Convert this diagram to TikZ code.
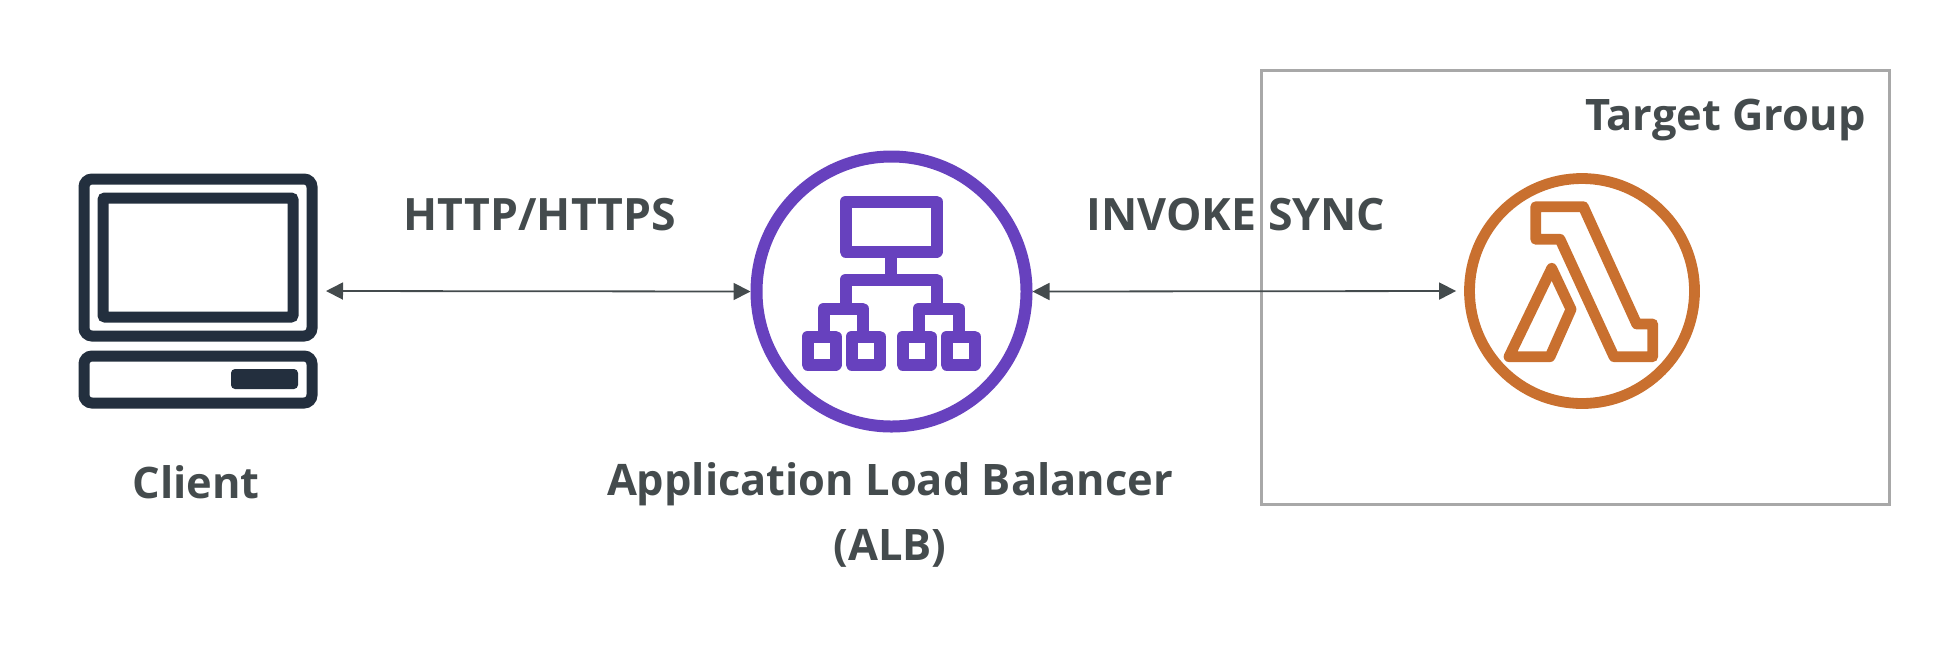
\documentclass[tikz,border=0pt]{standalone}
\usepackage{fontspec}
\setmainfont{Open Sans}
\usetikzlibrary{arrows.meta}
\definecolor{clientcol}{HTML}{232F3E}
\definecolor{albcol}{HTML}{6741BE}
\definecolor{lambdacol}{HTML}{C9702F}
\definecolor{textcol}{HTML}{444B4D}
\definecolor{boxcol}{HTML}{A8A8A8}
\tikzset{
  label/.style={text=textcol,font=\fontsize{21.7}{32.5}\selectfont\bfseries,inner sep=0pt},
  caplabel/.style={text=textcol,font=\fontsize{22.3}{32.5}\selectfont\bfseries,inner sep=0pt},
  clientline/.style={draw=clientcol,line width=5.5pt,rounded corners=4pt},
  albline/.style={draw=albcol,line width=6pt,line join=round},
  lambdaline/.style={draw=lambdacol,line width=5.4pt,line join=round},
}
\begin{document}
\begin{tikzpicture}[x=0.5pt,y=-0.5pt,>={Triangle[length=8.5pt,width=8.5pt]}]
	\useasboundingbox (0,0) rectangle (1958,666);
	% target group
	\node[draw=boxcol,line width=1.4pt,minimum width=314pt,minimum height=217pt,inner sep=0pt] (group) at (1575.5,287.5){};
	\node[label,anchor=base east] (grouplabel) at (1866,130){Target Group};
	% client
	\draw[clientline] (84,179) rectangle (312,336);
	\draw[clientline,rounded corners=1pt] (103,198) rectangle (293,317);
	\draw[clientline] (84,356) rectangle (312,403);
	\draw[fill=clientcol,draw=none,rounded corners=2pt] (231,369) rectangle (298,389);
	\coordinate (clientend) at (326,291);
	\node[label,anchor=base] (clientlabel) at (196,498){Client};
	% load balancer
	\node[circle,albline,minimum size=135pt,inner sep=0pt] (alb) at (891.5,291.5){};
	\draw[albline] (845.5,201.5) rectangle (936.5,251.5);
	\draw[albline] (891,257) -- (891,279.5);
	\draw[albline] (823.5,331) -- (823.5,308.5) -- (862.5,308.5) -- (862.5,331);
	\draw[albline] (918.5,331) -- (918.5,308.5) -- (958.5,308.5) -- (958.5,331);
	\draw[albline] (845.5,303) -- (845.5,279.5) -- (936.5,279.5) -- (936.5,303);
	\foreach \x in {807.5,851.5,902.5,946.5}
		\draw[albline] (\x,336.5) rectangle ++(28,28);
	\node[label,align=center] (alblabel) at (890,515){Application Load Balancer\\(ALB)};
	% lambda
	\node[circle,lambdaline,minimum size=112.5pt,inner sep=0pt] (lambda) at (1582,291){};
	\draw[lambdaline] (1535.7,206.7) -- (1583.3,206.7) -- (1636.7,324) -- (1652.7,324) -- (1652.7,356.7)
		-- (1614,356.7) -- (1560,239.3) -- (1535.7,239.3) -- cycle;
	\draw[lambdaline] (1551.7,268.3) -- (1571,309.3) -- (1550,356.7) -- (1509,356.7) -- cycle;
	% arrows
	\draw[<->,textcol,line width=.9pt] (clientend) -- (alb.west);
	\draw[<->,textcol,line width=.9pt,shorten >=4pt] (alb.east) -- (lambda.west);
	\node[caplabel,anchor=base] (httplabel) at (540,230){HTTP/HTTPS};
	\node[caplabel,anchor=base] (invokelabel) at (1236,230){INVOKE SYNC};
\end{tikzpicture}
\end{document}
